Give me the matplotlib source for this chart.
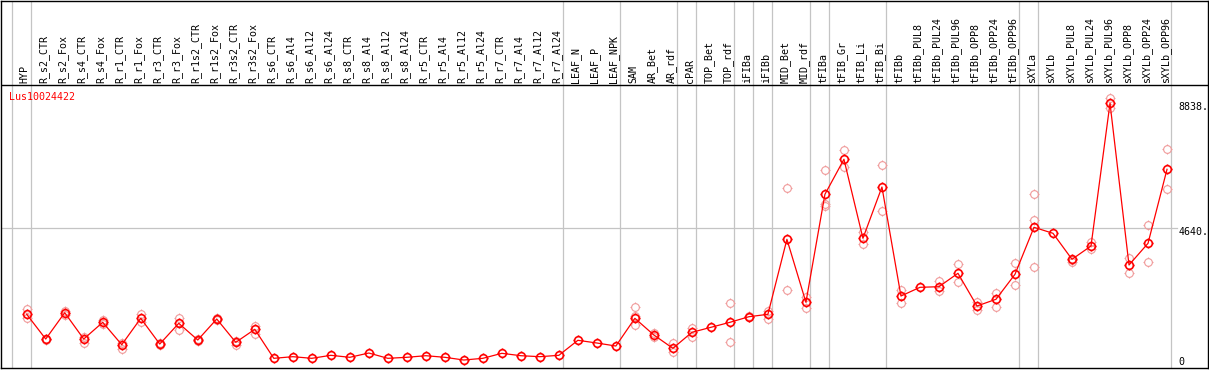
import numpy as np
import matplotlib
matplotlib.use("Agg")
import matplotlib.pyplot as plt
from matplotlib.path import Path

nan = np.nan

samples = ["HYP", "R_s2_CTR", "R_s2_Fox", "R_s4_CTR", "R_s4_Fox", "R_r1_CTR", "R_r1_Fox",
           "R_r3_CTR", "R_r3_Fox", "R_r1s2_CTR", "R_r1s2_Fox", "R_r3s2_CTR", "R_r3s2_Fox",
           "R_s6_CTR", "R_s6_Al4", "R_s6_Al12", "R_s6_Al24", "R_s8_CTR", "R_s8_Al4",
           "R_s8_Al12", "R_s8_Al24", "R_r5_CTR", "R_r5_Al4", "R_r5_Al12", "R_r5_Al24",
           "R_r7_CTR", "R_r7_Al4", "R_r7_Al12", "R_r7_Al24", "LEAF_N", "LEAF_P", "LEAF_NPK",
           "SAM", "AR_Bet", "AR_rdf", "cPAR", "TOP_Bet", "TOP_rdf", "iFIBa", "iFIBb",
           "MID_Bet", "MID_rdf", "tFIBa", "tFIB_Gr", "tFIB_Li", "tFIB_Bi", "tFIBb",
           "tFIBb_PUL8", "tFIBb_PUL24", "tFIBb_PUL96", "tFIBb_OPP8", "tFIBb_OPP24",
           "tFIBb_OPP96", "sXYLa", "sXYLb", "sXYLb_PUL8", "sXYLb_PUL24", "sXYLb_PUL96",
           "sXYLb_OPP8", "sXYLb_OPP24", "sXYLb_OPP96"]

# mean expression per sample
mean_expr = [1753, 923, 1807, 923, 1484, 733, 1618, 755, 1450, 890, 1595, 812, 1249,
             275, 330, 275, 376, 309, 453, 275, 309, 363, 309, 218, 275, 443, 363, 330, 376,
             880, 789, 688,
             1618, 1058, 611, 1148, 1316, 1484, 1672, 1753, 4271, 2156,
             5782, 6958, 4305, 6027, 2367, 2659, 2680, 3130, 2032, 2257, 3096,
             4674, 4473, 3600, 4046, 8838, 3408, 4137, 6622]

# individual replicates
rep_a = [1920, 940, 1864, 1000, 1561, 800, 1753, 790, 1640, 910, 1620, 860, 1360,
         nan, nan, nan, nan, nan, nan, nan, nan, nan, nan, nan, nan, nan, nan, nan, nan,
         nan, nan, nan,
         2008, 1115, 779, 1283, nan, 2122, 1650, 1880, 5984, 2350,
         6598, 7270, 4527, 6766, 2570, nan, 2870, 3442, 2180, 2480, 3465,
         5782, nan, 3580, 4190, 9006, 3633, 4751, 7293]
rep_b = [1639, 905, 1729, 800, 1430, 590, 1500, 730, 1230, 870, 1570, 720, 1080,
         nan, nan, nan, nan, nan, nan, nan, nan, nan, nan, nan, nan, nan, nan, nan, nan,
         nan, nan, nan,
         1394, 980, 477, 1000, nan, 833, 1690, 1600, 2559, 1960,
         5400, 6710, 4103, 5222, 2130, nan, 2540, 2827, 1890, 2010, 2737,
         3331, nan, 3520, 3930, 8670, 3150, 3519, 5950]
rep_c = [nan] * 32 + [1700] + [nan] * 9 + [5450] + [nan] * 10 + [4919] + [nan] * 7

boundaries = [-1, 0, 28, 31, 34, 35, 37, 38, 39, 41, 42, 45, 52, 53, 60]
gene = "Lus10024422"
y_marks = [8838, 4640]

# circle with four little ticks, like the original bitmap marker
ticks = Path([(0, 1), (0, 1.3), (0, -1), (0, -1.3), (1, 0), (1.3, 0), (-1, 0), (-1.3, 0)],
             [Path.MOVETO, Path.LINETO] * 4)
marker = Path.make_compound_path(Path.unit_circle(), ticks)

mono = "DejaVu Sans Mono"
red = "#ff0000"
pink = "#f09a9a"
grey = "#c4c4c4"

fig = plt.figure(figsize=(12.09, 3.70), dpi=100)
ax = fig.add_axes([1 / 1209, 2 / 370, 1206.5 / 1209, 367.5 / 370])
ax.set_xlim(-1.353, 62.13)
ax.set_ylim(-50, 12290)
ax.set_xticks([])
ax.set_yticks([])
for s in ax.spines.values():
    s.set_color("black")
    s.set_linewidth(1.0)

x = np.arange(len(samples))

for b in boundaries:
    ax.axvline(b + 0.2, color=grey, lw=0.9, zorder=1)
ax.plot([-1.353, 60.5], [4640, 4640], color=grey, lw=0.9, zorder=1)
ax.axhline(9452, color="black", lw=1.0, zorder=2)

for reps in (rep_a, rep_b, rep_c):
    ax.plot(x, reps, ls="none", marker=marker, ms=7.2, mfc="none", mec=pink, mew=0.8, zorder=3)
ax.plot(x, mean_expr, color=red, lw=0.9, marker=marker, ms=7.2, mfc="none",
        mec=red, mew=1.2, zorder=4)

for i, name in enumerate(samples):
    ax.text(i - 0.1, 9520, name, rotation=90, ha="center", va="bottom",
            family=mono, fontsize=7.2)

for v in y_marks:
    ax.annotate(f"{v}.", (60.6, v), xytext=(0, -4), textcoords="offset pixels",
                ha="left", va="center", family=mono, fontsize=7.2)
ax.annotate("0", (60.6, 0), xytext=(0, 5), textcoords="offset pixels",
            ha="left", va="center", family=mono, fontsize=7.2)

fig.text(9.3 / 1209, (370 - 97.5) / 370, gene, color=red, ha="left", va="center",
         family=mono, fontsize=7.2)

fig.savefig("out.png", dpi=100)
